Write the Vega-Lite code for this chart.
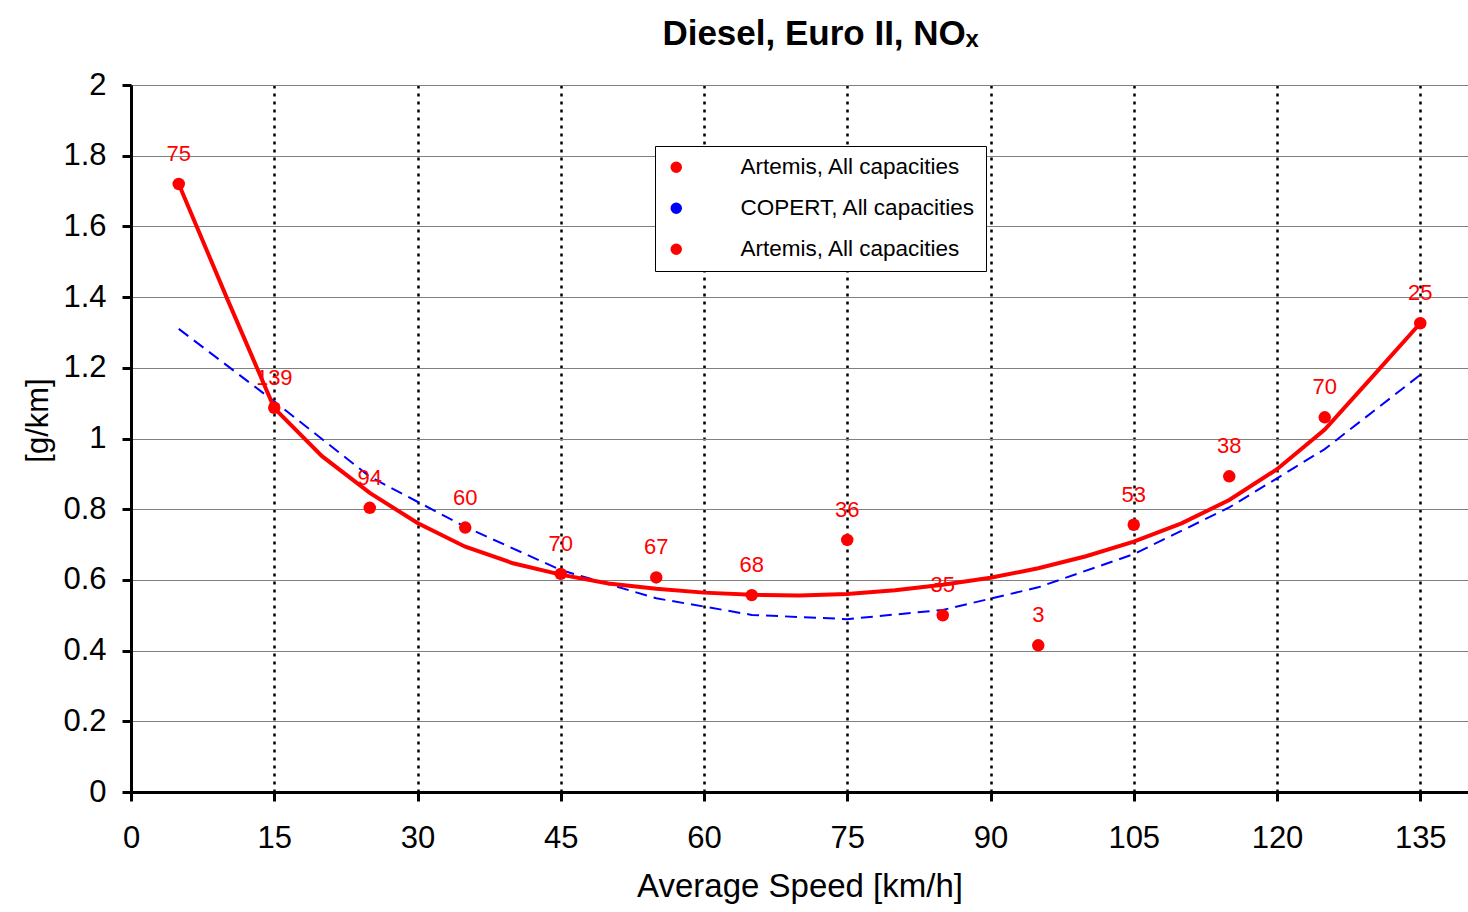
{
  "$schema": "https://vega.github.io/schema/vega-lite/v6.json",
  "autosize": "none",
  "width": 1337,
  "height": 707,
  "padding": {"left": 131, "top": 85, "right": 0, "bottom": 120},
  "background": "white",
  "config": {
    "font": "Liberation Sans",
    "view": {"stroke": "#808080", "strokeWidth": 1}
  },
  "title": {
    "text": "Diesel, Euro II, NOₓ",
    "font": "Liberation Sans",
    "fontSize": 35,
    "fontWeight": "bold",
    "color": "black",
    "anchor": "middle",
    "offset": 17,
    "dx": 21
  },
  "datasets": {
    "points": [
      {"speed": 5, "value": 1.72, "n": "75", "series": "Artemis points"},
      {"speed": 15, "value": 1.087, "n": "139", "series": "Artemis points"},
      {"speed": 25, "value": 0.804, "n": "94", "series": "Artemis points"},
      {"speed": 35, "value": 0.748, "n": "60", "series": "Artemis points"},
      {"speed": 45, "value": 0.617, "n": "70", "series": "Artemis points"},
      {"speed": 55, "value": 0.607, "n": "67", "series": "Artemis points"},
      {"speed": 65, "value": 0.557, "n": "68", "series": "Artemis points"},
      {"speed": 75, "value": 0.713, "n": "36", "series": "Artemis points"},
      {"speed": 85, "value": 0.5, "n": "35", "series": "Artemis points"},
      {"speed": 95, "value": 0.415, "n": "3", "series": "Artemis points"},
      {"speed": 105, "value": 0.756, "n": "53", "series": "Artemis points"},
      {"speed": 115, "value": 0.893, "n": "38", "series": "Artemis points"},
      {"speed": 125, "value": 1.06, "n": "70", "series": "Artemis points"},
      {"speed": 135, "value": 1.326, "n": "25", "series": "Artemis points"}
    ],
    "copert": [
      {"speed": 5, "value": 1.31, "series": "COPERT"},
      {"speed": 15, "value": 1.105, "series": "COPERT"},
      {"speed": 25, "value": 0.892, "series": "COPERT"},
      {"speed": 35, "value": 0.75, "series": "COPERT"},
      {"speed": 45, "value": 0.628, "series": "COPERT"},
      {"speed": 55, "value": 0.548, "series": "COPERT"},
      {"speed": 65, "value": 0.501, "series": "COPERT"},
      {"speed": 75, "value": 0.489, "series": "COPERT"},
      {"speed": 85, "value": 0.515, "series": "COPERT"},
      {"speed": 95, "value": 0.579, "series": "COPERT"},
      {"speed": 105, "value": 0.673, "series": "COPERT"},
      {"speed": 115, "value": 0.805, "series": "COPERT"},
      {"speed": 125, "value": 0.97, "series": "COPERT"},
      {"speed": 135, "value": 1.18, "series": "COPERT"}
    ],
    "fit": [
      {"speed": 5, "value": 1.72, "series": "Artemis fit"},
      {"speed": 10, "value": 1.4, "series": "Artemis fit"},
      {"speed": 15, "value": 1.086, "series": "Artemis fit"},
      {"speed": 20, "value": 0.95, "series": "Artemis fit"},
      {"speed": 25, "value": 0.846, "series": "Artemis fit"},
      {"speed": 30, "value": 0.761, "series": "Artemis fit"},
      {"speed": 35, "value": 0.694, "series": "Artemis fit"},
      {"speed": 40, "value": 0.647, "series": "Artemis fit"},
      {"speed": 45, "value": 0.615, "series": "Artemis fit"},
      {"speed": 50, "value": 0.59, "series": "Artemis fit"},
      {"speed": 55, "value": 0.575, "series": "Artemis fit"},
      {"speed": 60, "value": 0.564, "series": "Artemis fit"},
      {"speed": 65, "value": 0.558, "series": "Artemis fit"},
      {"speed": 70, "value": 0.556, "series": "Artemis fit"},
      {"speed": 75, "value": 0.56, "series": "Artemis fit"},
      {"speed": 80, "value": 0.571, "series": "Artemis fit"},
      {"speed": 85, "value": 0.586, "series": "Artemis fit"},
      {"speed": 90, "value": 0.606, "series": "Artemis fit"},
      {"speed": 95, "value": 0.633, "series": "Artemis fit"},
      {"speed": 100, "value": 0.667, "series": "Artemis fit"},
      {"speed": 105, "value": 0.708, "series": "Artemis fit"},
      {"speed": 110, "value": 0.76, "series": "Artemis fit"},
      {"speed": 115, "value": 0.826, "series": "Artemis fit"},
      {"speed": 120, "value": 0.913, "series": "Artemis fit"},
      {"speed": 125, "value": 1.025, "series": "Artemis fit"},
      {"speed": 130, "value": 1.175, "series": "Artemis fit"},
      {"speed": 135, "value": 1.326, "series": "Artemis fit"}
    ]
  },
  "encoding": {
    "x": {
      "field": "speed",
      "type": "quantitative",
      "scale": {"domain": [0, 140], "nice": false, "zero": false},
      "axis": {
        "title": "Average Speed [km/h]",
        "values": [0, 15, 30, 45, 60, 75, 90, 105, 120, 135],
        "labelFlush": false,
        "domainColor": "black",
        "domainWidth": 3,
        "tickColor": "black",
        "tickWidth": 3,
        "tickSize": 9,
        "labelFontSize": 31,
        "labelColor": "black",
        "labelPadding": 22,
        "labelFont": "Liberation Sans",
        "titleFont": "Liberation Sans",
        "titleFontSize": 33,
        "titleFontWeight": "normal",
        "titleColor": "black",
        "titlePadding": 17,
        "grid": true,
        "gridColor": "black",
        "gridWidth": 2.5,
        "gridDash": [3, 5]
      }
    },
    "y": {
      "field": "value",
      "type": "quantitative",
      "scale": {"domain": [0, 2], "nice": false},
      "axis": {
        "title": "[g/km]",
        "values": [0, 0.2, 0.4, 0.6, 0.8, 1, 1.2, 1.4, 1.6, 1.8, 2],
        "format": "~g",
        "labelFlush": false,
        "domainColor": "black",
        "domainWidth": 3,
        "tickColor": "black",
        "tickWidth": 3,
        "tickSize": 9,
        "labelFontSize": 31,
        "labelColor": "black",
        "labelPadding": 16,
        "labelFont": "Liberation Sans",
        "titleFont": "Liberation Sans",
        "titleFontSize": 31,
        "titleFontWeight": "normal",
        "titleColor": "black",
        "titleAngle": -90,
        "titleAlign": "center",
        "titleBaseline": "middle",
        "titleX": -93,
        "titleY": 335,
        "grid": true,
        "gridColor": "#808080",
        "gridWidth": 1
      }
    }
  },
  "layer": [
    {
      "data": {"name": "copert"},
      "mark": {"type": "line", "strokeWidth": 2, "strokeDash": [12, 7]},
      "encoding": {
        "color": {
          "field": "series",
          "type": "nominal",
          "scale": {"domain": ["Artemis points", "COPERT", "Artemis fit"], "range": ["#ff0000", "#0000ff", "#ff0000"]}
        }
      }
    },
    {
      "data": {"name": "fit"},
      "mark": {"type": "line", "strokeWidth": 4},
      "encoding": {
        "color": {"field": "series", "type": "nominal"}
      }
    },
    {
      "data": {"name": "points"},
      "mark": {"type": "point", "filled": true, "shape": "circle", "size": 155, "opacity": 1},
      "encoding": {
        "color": {
          "field": "series",
          "type": "nominal",
          "legend": {
            "orient": "none",
            "legendX": 524,
            "legendY": 61,
            "title": null,
            "strokeColor": "black",
            "fillColor": "white",
            "padding": 10,
            "labelFontSize": 22.5,
            "labelFont": "Liberation Sans",
            "labelColor": "black",
            "labelLimit": 500,
            "labelOffset": 53,
            "rowPadding": 18,
            "symbolSize": 100,
            "labelExpr": "datum.value === 'COPERT' ? 'COPERT, All capacities' : 'Artemis, All capacities'"
          }
        }
      }
    },
    {
      "data": {"name": "points"},
      "mark": {"type": "text", "fontSize": 22, "font": "Liberation Sans", "color": "#ff0000", "baseline": "middle", "align": "center", "dy": -30},
      "encoding": {
        "text": {"field": "n", "type": "nominal"}
      }
    }
  ]
}
